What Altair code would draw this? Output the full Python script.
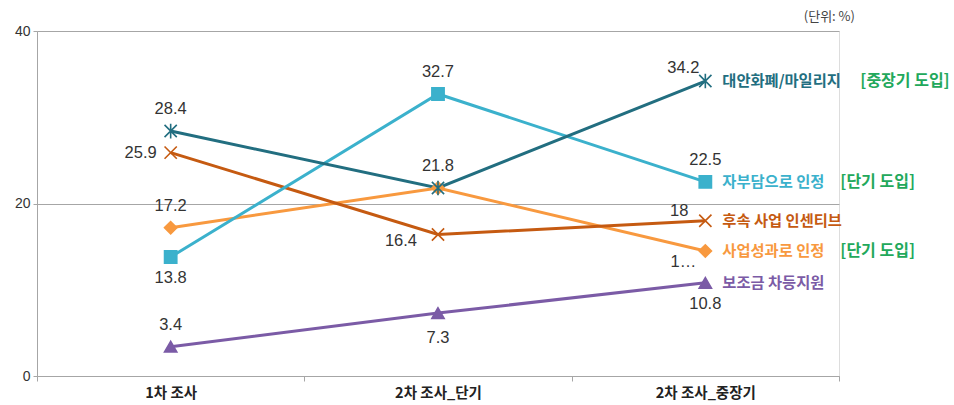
import altair as alt
import pandas as pd

categories = ["1차 조사", "2차 조사_단기", "2차 조사_중장기"]
series = ["보조금 차등지원", "사업성과로 인정", "후속 사업 인센티브", "자부담으로 인정", "대안화폐/마일리지"]
values = {
    "대안화폐/마일리지": [28.4, 21.8, 34.2],
    "자부담으로 인정": [13.8, 32.7, 22.5],
    "후속 사업 인센티브": [25.9, 16.4, 18.0],
    "사업성과로 인정": [17.2, 21.8, 14.5],
    "보조금 차등지원": [3.4, 7.3, 10.8],
}
value_labels = {
    "대안화폐/마일리지": ["28.4", "21.8", "34.2"],
    "자부담으로 인정": ["13.8", "32.7", "22.5"],
    "후속 사업 인센티브": ["25.9", "16.4", "18"],
    "사업성과로 인정": ["17.2", "", "1…"],
    "보조금 차등지원": ["3.4", "7.3", "10.8"],
}
stage_tags = {
    "대안화폐/마일리지": "[중장기 도입]",
    "자부담으로 인정": "[단기 도입]",
    "사업성과로 인정": "[단기 도입]",
}
unit_note = "(단위: %)"

# styles
colors = {
    "대안화폐/마일리지": "#226E80",
    "자부담으로 인정": "#3BB1CC",
    "후속 사업 인센티브": "#C55A11",
    "사업성과로 인정": "#F8993F",
    "보조금 차등지원": "#7B5BA6",
}
X_PATH = "M-1,-1L1,1M-1,1L1,-1"
AST_PATH = "M-1,-1L1,1M-1,1L1,-1M0,-1.2L0,1.2"
shapes = {
    "대안화폐/마일리지": AST_PATH,
    "자부담으로 인정": "square",
    "후속 사업 인센티브": X_PATH,
    "사업성과로 인정": "diamond",
    "보조금 차등지원": "triangle-up",
}
placement = {
    "대안화폐/마일리지": ["above", "above", "aboveleft"],
    "자부담으로 인정": ["below", "above", "above"],
    "후속 사업 인센티브": ["left", "left2", "leftup"],
    "사업성과로 인정": ["above", "none", "belowleft"],
    "보조금 차등지원": ["above", "below2", "below"],
}

rows = []
for s in series:
    for i, c in enumerate(categories):
        rows.append({"series": s, "cat": c, "value": values[s][i],
                     "label": value_labels[s][i], "place": placement[s][i],
                     "last": i == len(categories) - 1,
                     "tag": stage_tags.get(s, "")})
df = pd.DataFrame(rows)

NUM_FONT = "Liberation Sans"
KR_FONT = "Noto Sans CJK KR"
GRAY = "#A6A6A6"

color_scale = alt.Scale(domain=list(colors.keys()), range=list(colors.values()))
shape_scale = alt.Scale(domain=list(shapes.keys()), range=list(shapes.values()))

x = alt.X("cat:N", sort=categories, title=None,
          scale=alt.Scale(paddingInner=0, paddingOuter=0),
          axis=alt.Axis(tickBand="extent", labelAngle=0, labelFont=KR_FONT,
                        labelFontSize=14.5, labelFontWeight="bold", labelColor="#222222",
                        labelPadding=5, domainColor=GRAY, tickColor=GRAY, tickSize=5,
                        grid=False))
y = alt.Y("value:Q", title=None,
          scale=alt.Scale(domain=[0, 40], nice=False),
          axis=alt.Axis(values=[0, 20, 40], labelFont=NUM_FONT, labelFontSize=14,
                        labelColor="#333333", labelPadding=3, domainColor=GRAY,
                        tickColor=GRAY, tickSize=4, gridColor=GRAY, gridWidth=1))

base = alt.Chart(df)

lines = base.mark_line(strokeWidth=3).encode(
    x=x, y=y, color=alt.Color("series:N", scale=color_scale, legend=None),
    detail="series:N", order=alt.Order("cat_idx:Q"),
).transform_calculate(cat_idx="indexof(%s, datum.cat)" % str(categories))

points = base.mark_point(filled=False, strokeWidth=1.6, opacity=1, size=150).encode(
    x=alt.X("cat:N", sort=categories),
    y="value:Q",
    color=alt.Color("series:N", scale=color_scale, legend=None),
    fill=alt.Fill("series:N", scale=color_scale, legend=None),
    shape=alt.Shape("series:N", scale=shape_scale, legend=None),
)

place_style = {
    "above": dict(dy=-22, dx=0, align="center"),
    "aboveleft": dict(dy=-13, dx=-22, align="center"),
    "below": dict(dy=21, dx=0, align="center"),
    "below2": dict(dy=25, dx=0, align="center"),
    "left": dict(dy=0, dx=-14, align="right"),
    "left2": dict(dy=6, dx=-21, align="right"),
    "leftup": dict(dy=-10, dx=-17, align="right"),
    "belowleft": dict(dy=11, dx=-22, align="center"),
}
label_layers = []
for p, st in place_style.items():
    label_layers.append(
        base.transform_filter(alt.datum.place == p).mark_text(
            font=NUM_FONT, fontSize=16.5, color="#333333", baseline="middle", **st
        ).encode(x=alt.X("cat:N", sort=categories), y="value:Q", text="label:N")
    )

names = base.transform_filter(alt.datum.last == True).mark_text(
    font=KR_FONT, fontSize=15.3, fontWeight="bold", align="left", baseline="middle", dx=17
).encode(x=alt.X("cat:N", sort=categories), y="value:Q", text="series:N",
         color=alt.Color("series:N", scale=color_scale, legend=None))

tag_dx = {"대안화폐/마일리지": 155, "자부담으로 인정": 135, "사업성과로 인정": 135}
tag_layers = []
for s, d in tag_dx.items():
    tag_layers.append(
        base.transform_filter((alt.datum.last == True) & (alt.datum.series == s)).mark_text(
            font=KR_FONT, fontSize=16, fontWeight="bold", align="left", baseline="middle",
            dx=d, color="#22A85B"
        ).encode(x=alt.X("cat:N", sort=categories), y="value:Q", text="tag:N")
    )

chart = alt.layer(lines, points, *label_layers, names, *tag_layers).properties(
    width=802, height=345,
    autosize=alt.AutoSizeParams(type="none"),
    padding={"left": 37, "top": 31, "right": 115, "bottom": 29},
    title=alt.TitleParams(unit_note, anchor="end", frame="group", font=KR_FONT, fontSize=13,
                          fontWeight="normal", color="#444444", dx=16, offset=0),
).configure_view(stroke=None).configure(background="white")

chart.save("out.html", embed_options={"renderer": "svg", "actions": False})
